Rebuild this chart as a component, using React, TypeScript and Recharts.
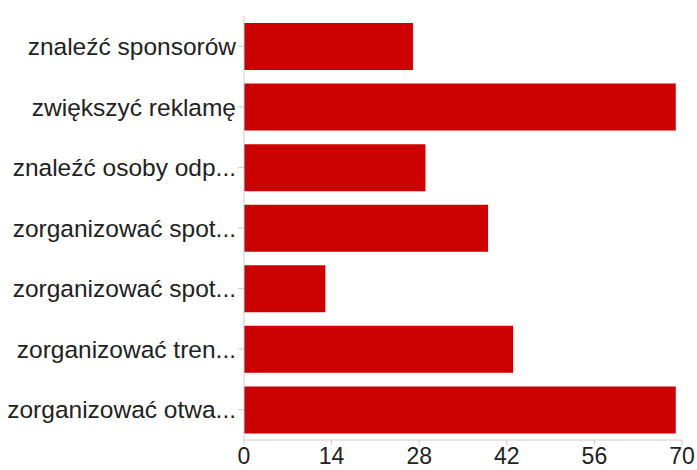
import { BarChart, Bar, XAxis, YAxis } from 'recharts'

const categories = [
  'znaleźć sponsorów',
  'zwiększyć reklamę',
  'znaleźć osoby odp...',
  'zorganizować spot...',
  'zorganizować spot...',
  'zorganizować tren...',
  'zorganizować otwa...',
]
const counts = [27, 69, 29, 39, 13, 43, 69]
const xTicks = [0, 14, 28, 42, 56, 70]

const FONT = '"Liberation Sans", Arial, sans-serif'
const AXIS = '#cccccc'

export default function App() {
  // category labels repeat, so the axis runs on the index and prints the label
  const data = categories.map((name, i) => ({ key: i, name, value: counts[i] }))

  return (
    <div style={{ position: 'absolute', left: 0, top: 0, width: 697, height: 470, background: '#fff' }}>
      <BarChart
        width={697}
        height={470}
        data={data}
        layout="vertical"
        margin={{ top: 16, right: 15, bottom: 0, left: 0 }}
      >
        <XAxis
          type="number"
          domain={[0, 70]}
          ticks={xTicks}
          interval={0}
          height={30}
          tickSize={5}
          tickMargin={3}
          axisLine={{ stroke: AXIS }}
          tickLine={{ stroke: AXIS }}
          tick={{ fill: '#222', fontSize: 23, fontFamily: FONT }}
        />
        <YAxis
          type="category"
          dataKey="key"
          width={244}
          interval={0}
          tickSize={6}
          tickMargin={2}
          tickFormatter={(v: number) => categories[v]}
          axisLine={{ stroke: AXIS }}
          tickLine={{ stroke: AXIS }}
          tick={{ fill: '#222', fontSize: 24.5, fontFamily: FONT }}
        />
        <Bar dataKey="value" fill="#cc0000" barSize={47} isAnimationActive={false} />
      </BarChart>
    </div>
  )
}
